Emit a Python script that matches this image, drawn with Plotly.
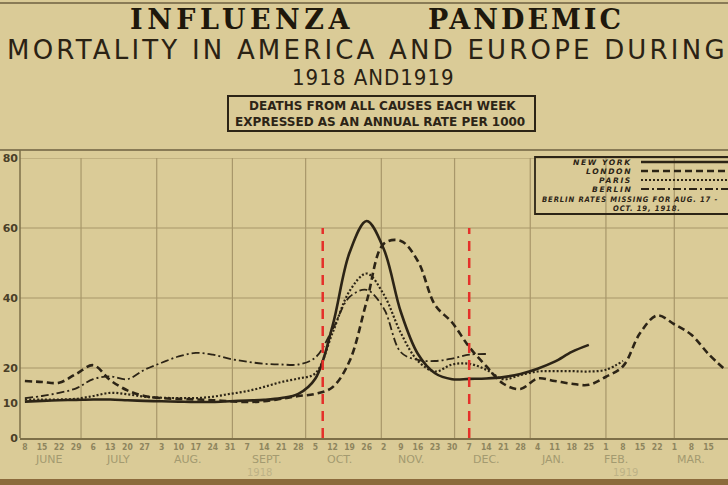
import plotly.graph_objects as go
import pandas as pd

# ---------------- data ----------------
WEEKS = pd.date_range("1918-06-08", periods=42, freq="7D")   # week-ending dates
DAY_LABELS = [str(d.day) for d in WEEKS]

NEW_YORK = [10.4, 10.6, 10.8, 10.9, 11.0, 11.0, 10.8, 10.6, 10.5, 10.4, 10.3, 10.3,
            10.5, 10.7, 10.9, 11.4, 12.6, 17.0, 32.0, 53.0, 62.0, 54.0, 36.0, 24.0,
            18.5, 16.8, 16.9, 17.0, 17.4, 18.3, 19.8, 21.8, 24.6, 26.6]
LONDON = [16.3, 16.0, 15.8, 18.3, 20.8, 16.5, 13.6, 12.0, 11.4, 11.2, 11.0, 10.8,
          10.5, 10.3, 10.5, 11.2, 12.0, 12.6, 14.5, 22.0, 39.0, 55.5, 56.3, 50.5,
          38.0, 33.0, 26.0, 20.5, 15.5, 14.0, 17.0, 16.3, 15.5, 15.2, 17.5, 20.5,
          30.0, 35.0, 32.5, 29.5, 24.0, 19.4]
PARIS = [11.0, 11.0, 11.0, 11.2, 12.0, 12.9, 12.5, 11.8, 11.5, 11.4, 11.4, 11.8,
         12.6, 13.4, 14.6, 16.0, 17.0, 18.5, 30.0, 42.0, 47.0, 41.0, 30.0, 22.0,
         19.0, 21.0, 21.2, 19.5, 16.8, 18.0, 19.0, 19.1, 19.1, 19.0, 19.5, 22.0]
BERLIN = [11.4, 12.0, 12.9, 14.2, 16.8, 17.6, 16.8, 19.5, 21.5, 23.3, 24.3, 23.8,
          22.6, 21.8, 21.2, 21.0, 21.0, 23.0, 31.0, 40.3, 42.3, 37.0, 24.5, 22.3,
          22.0, 22.7, 23.8, 24.0]

CITY_NAMES = ["NEW YORK", "LONDON", "PARIS", "BERLIN"]
CITY_VALUES = [NEW_YORK, LONDON, PARIS, BERLIN]

MONTH_NAMES = ["JUNE", "JULY", "AUG.", "SEPT.", "OCT.", "NOV.", "DEC.", "JAN.", "FEB.", "MAR."]
MONTH_LABEL_DATES = ["1918-06-18", "1918-07-16", "1918-08-14", "1918-09-15", "1918-10-15",
                     "1918-11-13", "1918-12-14", "1919-01-10", "1919-02-05", "1919-03-08"]
MONTH_STARTS = ["1918-07-01", "1918-08-01", "1918-09-01", "1918-10-01", "1918-11-01",
                "1918-12-01", "1919-01-01", "1919-02-01", "1919-03-01"]
YEAR_NAMES = ["1918", "1919"]
YEAR_LABEL_DATES = ["1918-09-12", "1919-02-09"]
Y_TICKS = [0, 10, 20, 40, 60, 80]
Y_GRID = [20, 40, 60, 80]
RED_MARK_DATES = ["1918-10-08", "1918-12-07"]
RED_MARK_TOP = 60

TITLE_1A = "INFLUENZA"
TITLE_1B = "PANDEMIC"
TITLE_2 = "MORTALITY IN AMERICA AND EUROPE DURING"
TITLE_3 = "1918 AND1919"
BOX_LINES = ["DEATHS FROM ALL CAUSES EACH WEEK", "EXPRESSED AS AN ANNUAL RATE PER 1000"]
NOTE_LINES = ["BERLIN RATES MISSING FOR AUG. 17 -", "OCT. 19, 1918."]

# ---------------- styles ----------------
W, H = 728, 485
ML, MR, MT, MB = 20, 0, 158, 47
PW, PH = W - ML - MR, H - MT - MB
INK = "#2c2416"
PAPER = "#dacb97"
GRID = "#a8976a"
FADED = "#8e855e"

LINE_STYLES = [
    dict(color=INK, width=2.6, dash="solid"),
    dict(color=INK, width=2.6, dash="7px,4px"),
    dict(color=INK, width=2.2, dash="2px,2px"),
    dict(color=INK, width=1.8, dash="8px,3px,2px,3px"),
]


def px(x):
    return (x - ML) / PW


def py(y):
    return (H - MB - y) / PH


fig = go.Figure()
for name, vals, st in zip(CITY_NAMES, CITY_VALUES, LINE_STYLES):
    fig.add_trace(go.Scatter(x=WEEKS[:len(vals)], y=vals, mode="lines", name=name,
                             line=dict(shape="spline", smoothing=1.0, **st),
                             showlegend=False))

# grid
for g in Y_GRID:
    fig.add_shape(type="line", xref="paper", yref="y", x0=0, x1=1, y0=g, y1=g,
                  line=dict(color=GRID, width=1.2), layer="below")
for m in MONTH_STARTS:
    fig.add_shape(type="line", xref="x", yref="paper", x0=m, x1=m, y0=0, y1=1,
                  line=dict(color=GRID, width=1.2), layer="below")

# red dashed markers
for d in RED_MARK_DATES:
    fig.add_shape(type="line", xref="x", yref="y", x0=d, x1=d, y0=0, y1=RED_MARK_TOP,
                  line=dict(color="#e5302a", width=2.5, dash="10px,7px"), layer="above")

# frame lines
fig.add_shape(type="line", xref="paper", yref="paper", x0=px(0), x1=px(W), y0=py(150), y1=py(150),
              line=dict(color="#6e6040", width=1.5))
fig.add_shape(type="line", xref="paper", yref="paper", x0=px(0), x1=px(W), y0=py(3), y1=py(3),
              line=dict(color="#6e6040", width=1.5))
fig.add_shape(type="line", xref="paper", yref="paper", x0=0, x1=0, y0=py(438), y1=py(150),
              line=dict(color="#7d6f48", width=1.5))
fig.add_shape(type="rect", xref="paper", yref="paper", x0=px(0), x1=px(W), y0=py(485), y1=py(479),
              line=dict(width=0), fillcolor="#8c6b3c")

# header box
fig.add_shape(type="rect", xref="paper", yref="paper", x0=px(228), x1=px(535), y0=py(131), y1=py(96),
              line=dict(color=INK, width=2))

anns = []


def txt(text, x, y, size, family="DejaVu Sans", color=INK, weight="normal", style="normal",
        xanchor="center", align="center", spacing=None):
    if spacing is not None:
        text = f"<span style='letter-spacing:{spacing}px'>{text}</span>"
    anns.append(dict(text=text, x=px(x), y=py(y), xref="paper", yref="paper", showarrow=False,
                     xanchor=xanchor, yanchor="middle", align=align,
                     font=dict(size=size, family=family, color=color, weight=weight, style=style)))


txt(TITLE_1A, 242, 19, 27, family="DejaVu Serif", weight="bold", color="#1e180c", spacing=4.5)
txt(TITLE_1B, 526, 19, 27, family="DejaVu Serif", weight="bold", color="#1e180c", spacing=3)
txt(TITLE_2, 367, 50, 26, color="#2a2214", spacing=3.2)
txt(TITLE_3, 373, 78, 22, family="DejaVu Sans Condensed", color="#2a2214", spacing=1)

# subtitle box text
txt(BOX_LINES[0], 382, 106, 12, family="DejaVu Sans", weight="bold")
txt(BOX_LINES[1], 380, 122, 12, family="DejaVu Sans", weight="bold")

# custom legend (names left, line samples right)
fig.add_shape(type="rect", xref="paper", yref="paper", x0=px(535), x1=px(740), y0=py(214), y1=py(157),
              line=dict(color=INK, width=1.8))
LEG_Y = [162, 171, 180, 189]
for name, st, ly in zip(CITY_NAMES, LINE_STYLES, LEG_Y):
    txt(name, 634, ly, 7.6, family="DejaVu Sans", weight="bold", style="italic",
        xanchor="right", spacing=1.6)
    fig.add_shape(type="line", xref="paper", yref="paper", x0=px(641), x1=px(728), y0=py(ly), y1=py(ly),
                  line=st)
txt(NOTE_LINES[0], 540, 199, 7.6, family="DejaVu Sans Condensed", weight="bold", style="italic",
    xanchor="left", spacing=0.9)
txt(NOTE_LINES[1], 647, 208, 7.6, family="DejaVu Sans Condensed", weight="bold", style="italic",
    spacing=0.9)

# month and year labels
for m, d in zip(MONTH_NAMES, MONTH_LABEL_DATES):
    anns.append(dict(text=m, x=d, y=py(459), xref="x", yref="paper", showarrow=False,
                     yanchor="middle",
                     font=dict(size=11, family="DejaVu Sans", color="#a39a70")))
for yname, d in zip(YEAR_NAMES, YEAR_LABEL_DATES):
    anns.append(dict(text=yname, x=d, y=py(472), xref="x", yref="paper", showarrow=False,
                     yanchor="middle",
                     font=dict(size=10, family="DejaVu Sans", color="#bdb286")))

fig.update_layout(
    width=W, height=H,
    margin=dict(l=ML, r=MR, t=MT, b=MB, pad=0),
    paper_bgcolor=PAPER, plot_bgcolor=PAPER,
    annotations=anns,
    xaxis=dict(type="date", range=["1918-06-06", "1919-03-23"], tickvals=list(WEEKS),
               ticktext=DAY_LABELS, showgrid=False, zeroline=False, ticks="",
               showline=True, linecolor="#7d6f48", linewidth=1.5,
               tickfont=dict(size=8.5, family="DejaVu Sans Condensed", color=FADED, weight="bold"),
               tickangle=0, ticklabelstandoff=0, fixedrange=True),
    yaxis=dict(range=[0, 80], tickvals=Y_TICKS, ticktext=[str(t) for t in Y_TICKS],
               showgrid=False, zeroline=False, ticks="", showline=False,
               tickfont=dict(size=11, family="DejaVu Sans", color="#4a3f28", weight="bold"),
               ticklabelstandoff=1, fixedrange=True),
)

fig.write_html("out.html", config={"displayModeBar": False},
               post_script="document.body.style.margin='0';")
